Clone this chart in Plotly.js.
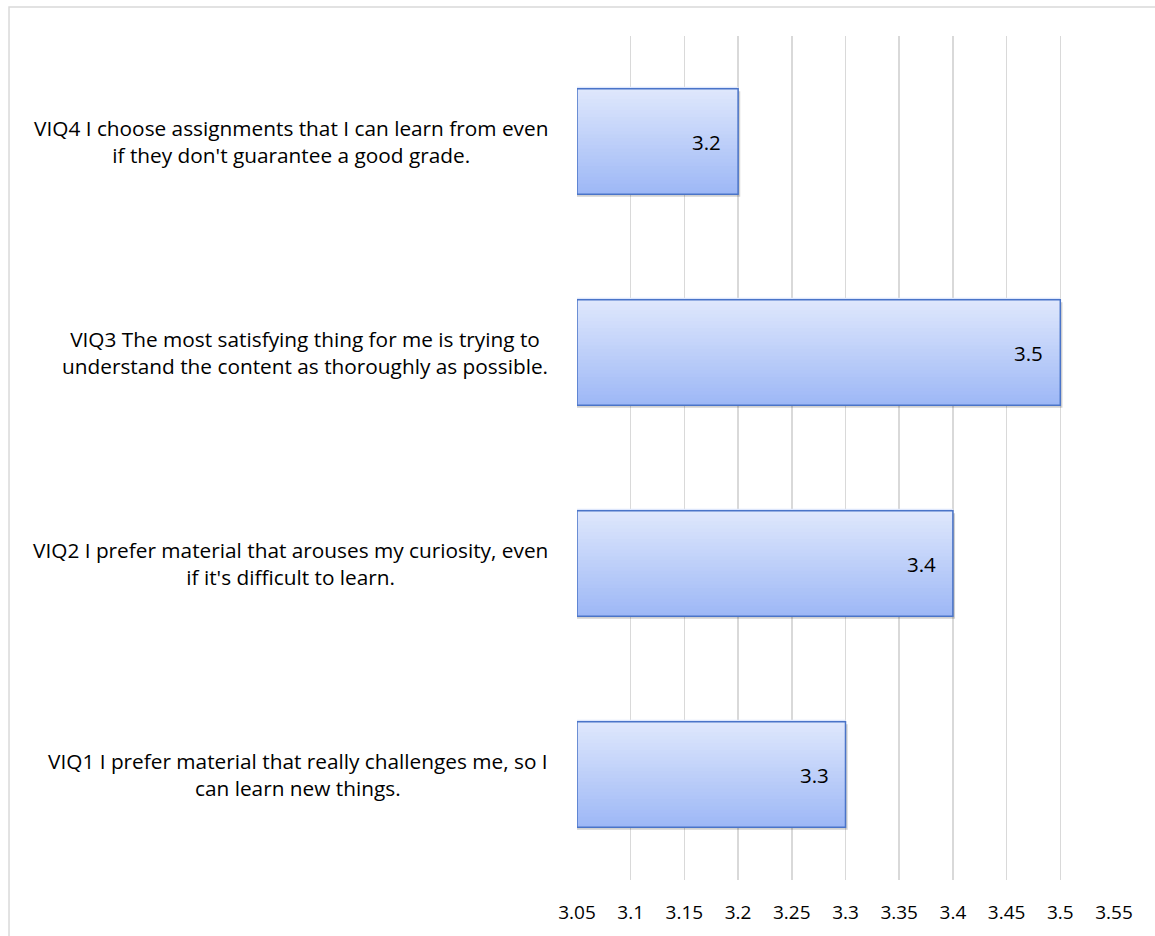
<!DOCTYPE html>
<html>
<head>
<meta charset="utf-8">
<script src="https://cdn.plot.ly/plotly-3.0.1.min.js"></script>
<style>html,body{margin:0;padding:0;background:#fff;}#chart{width:1155px;height:936px;}</style>
</head>
<body>
<div id="chart"></div>
<script>
const categories = ["VIQ1", "VIQ2", "VIQ3", "VIQ4"];
const labels = [
  "VIQ1 I prefer material that really challenges me, so I<br>can learn new things.",
  "VIQ2 I prefer material that arouses my curiosity, even<br>if it's difficult to learn.",
  "VIQ3 The most satisfying thing for me is trying to<br>understand the content as thoroughly as possible.",
  "VIQ4 I choose assignments that I can learn from even<br>if they don't guarantee a good grade."
];
const values = [3.3, 3.4, 3.5, 3.2];
const tickVals = [3.05, 3.1, 3.15, 3.2, 3.25, 3.3, 3.35, 3.4, 3.45, 3.5, 3.55];
const tickText = ["3.05", "3.1", "3.15", "3.2", "3.25", "3.3", "3.35", "3.4", "3.45", "3.5", "3.55"];

const FONT = "Open Sans, Noto Sans, sans-serif";
const AXIS_MIN = 3.05;
const BAR_W = 0.5;
const lengths = values.map(v => v - AXIS_MIN);

// gradient colours (bottom -> top)
const cBottom = [158, 184, 246];
const cTop = [222, 231, 252];
const N = 30;
const traces = [];

// soft shadow
traces.push({
  type: "bar", orientation: "h", y: categories, x: lengths.map(l => l + 0.002), base: AXIS_MIN,
  width: BAR_W, offset: -BAR_W / 2 - 0.012,
  marker: { color: "rgba(0,0,0,0.18)", line: { width: 0 } }, hoverinfo: "skip"
});

for (let k = 0; k < N; k++) {
  const t = k / (N - 1);
  const c = cBottom.map((b, i) => Math.round(b + (cTop[i] - b) * t));
  traces.push({
    type: "bar", orientation: "h", y: categories, x: lengths, base: AXIS_MIN,
    width: BAR_W / N * 1.6, offset: -BAR_W / 2 + k * BAR_W / N,
    marker: { color: `rgb(${c[0]},${c[1]},${c[2]})`, line: { width: 0 } },
    hoverinfo: "skip"
  });
}
// outline bar on top
traces.push({
  type: "bar", orientation: "h", y: categories, x: lengths, base: AXIS_MIN,
  width: BAR_W, offset: -BAR_W / 2,
  marker: { color: "rgba(0,0,0,0)", line: { color: "#4a74c8", width: 1.5 } },
  hoverinfo: "skip"
});

const annotations = categories.map((c, i) => ({
  xref: "paper", yref: "y", x: 0, y: c,
  xanchor: "right", yanchor: "middle", xshift: -27,
  text: labels[i], showarrow: false, align: "center",
  font: { family: FONT, size: 20.8, color: "#000" }
})).concat(categories.map((c, i) => ({
  xref: "x", yref: "y", x: values[i], y: c,
  xanchor: "right", yanchor: "middle", xshift: -15,
  text: values[i].toFixed(1), showarrow: false,
  font: { family: FONT, size: 20.5, color: "#000" }
})));

const layout = {
  width: 1155, height: 936,
  margin: { l: 577, r: 41, t: 36, b: 56 },
  paper_bgcolor: "#fff", plot_bgcolor: "#fff",
  showlegend: false, barmode: "overlay",
  xaxis: {
    range: [3.05, 3.55], tickvals: tickVals, ticktext: tickText,
    showgrid: true, gridcolor: "#d9d9d9", gridwidth: 1.5,
    zeroline: false, showline: false, ticks: "",
    tickfont: { family: FONT, size: 19, color: "#000" },
    ticklabelstandoff: 19, fixedrange: true
  },
  yaxis: {
    type: "category", categoryorder: "array", categoryarray: categories,
    range: [-0.5, 3.5], showticklabels: false, showgrid: false,
    zeroline: false, showline: false, ticks: "", fixedrange: true
  },
  annotations: annotations,
  shapes: [{
    type: "rect", xref: "paper", yref: "paper",
    x0: -1.0577, x1: 1.2, y0: -0.2, y1: 1.0344,
    line: { color: "#d9d9d9", width: 1.5 }, fillcolor: "rgba(0,0,0,0)", layer: "below"
  }]
};

Plotly.newPlot("chart", traces, layout, { displayModeBar: false, staticPlot: true });
</script>
</body>
</html>
